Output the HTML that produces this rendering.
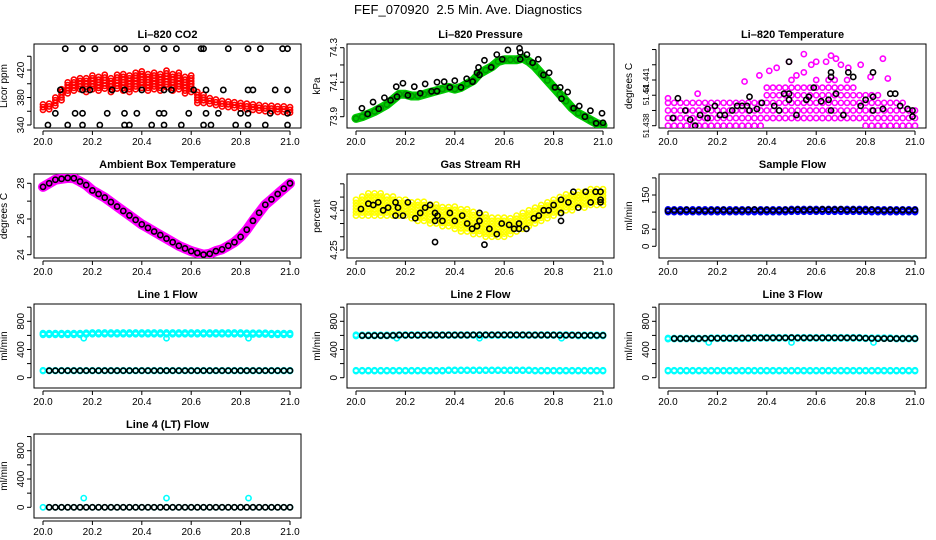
<!DOCTYPE html>
<html><head><meta charset="utf-8"><style>
html,body{margin:0;padding:0;background:#fff;}
svg{display:block;font-family:"Liberation Sans",Arial,sans-serif;}
</style></head><body>
<svg id="chart" width="936" height="540" viewBox="0 0 936 540" xmlns="http://www.w3.org/2000/svg">
<rect width="936" height="540" fill="#fff"/>
<text x="468" y="14" text-anchor="middle" font-size="13" xml:space="preserve">FEF_070920  2.5 Min. Ave. Diagnostics</text>
</svg>
<script>
// ---- shared categories ----
const times = [];
for (let i = 0; i <= 40; i++) times.push(20 + i * 0.025);
const xTickLabels = ["20.0","20.2","20.4","20.6","20.8","21.0"];
const xTickValues = [20.0,20.2,20.4,20.6,20.8,21.0];

// ---- CO2 ----
const co2Lo = [362,363,368,376,386,390,392,388,392,390,393,388,393,390,388,392,394,390,392,390,395,390,392,386,388,372,372,371,369,367,366,365,364,363,362,361,360,360,359,359,358];
const co2Hi = [370,372,382,395,404,408,410,408,412,410,414,410,416,414,412,416,418,414,416,414,420,414,416,410,412,390,384,380,377,375,374,373,372,371,370,369,368,368,367,367,368];
const co2BlackX = [20.02,20.1,20.16,20.23,20.33,20.35,20.44,20.49,20.56,20.65,20.68,20.78,20.83,20.9,20.99,
 20.05,20.13,20.16,20.26,20.33,20.38,20.47,20.49,20.59,20.66,20.71,20.8,20.83,20.92,20.99,
 20.07,20.16,20.19,20.28,20.33,20.4,20.49,20.52,20.61,20.66,20.73,20.83,20.85,20.94,20.99,
 20.09,20.16,20.21,20.3,20.33,20.42,20.49,20.54,20.64,20.65,20.75,20.83,20.88,20.97,20.99];
const co2BlackY = [340,340,340,340,340,340,340,340,340,340,340,340,340,340,340,
 357,357,357,357,357,357,357,357,357,357,357,357,357,357,357,
 391,391,391,391,391,391,391,391,391,391,391,391,391,391,391,
 451,451,451,451,451,451,451,451,451,451,451,451,451,451,451];

// ---- Pressure ----
const presMid = [73.89,73.90,73.915,73.93,73.95,73.97,74.0,74.03,74.03,74.02,74.02,74.03,74.04,74.05,74.06,74.07,74.06,74.07,74.09,74.11,74.15,74.17,74.19,74.22,74.23,74.23,74.23,74.24,74.22,74.19,74.15,74.11,74.07,74.03,73.99,73.95,73.92,73.90,73.88,73.86,73.85];
const presBlackX = [20.024,20.047,20.069,20.092,20.115,20.14,20.163,20.166,20.19,20.21,20.236,20.26,20.28,20.306,20.328,20.328,20.357,20.38,20.40,20.425,20.448,20.472,20.49,20.496,20.5,20.52,20.547,20.57,20.592,20.615,20.662,20.665,20.665,20.692,20.715,20.738,20.759,20.782,20.806,20.827,20.832,20.857,20.881,20.904,20.927,20.949,20.972,20.996,21.0];
const presBlackY = [73.949,73.916,73.985,73.946,74.01,73.995,74.074,74.016,74.094,74.024,74.074,74.036,74.09,74.047,74.1,74.048,74.103,74.07,74.109,74.07,74.12,74.103,74.155,74.186,74.142,74.227,74.186,74.26,74.233,74.287,74.297,74.273,74.233,74.26,74.213,74.233,74.142,74.155,74.07,74.07,74.004,74.043,73.949,73.962,73.9,73.935,73.862,73.92,73.865];

// ---- Li-820 Temperature ----
const tempLo = [51.438,51.438,51.438,51.438,51.438,51.438,51.438,51.438,51.438,51.438,51.438,51.438,51.438,51.438,51.438,51.438,
 51.4385,51.4385,51.4385,51.4385,51.4385,51.4385,51.4385,51.4385,51.4385,51.4385,51.4385,51.4385,51.4385,51.4385,51.4385,51.4385,
 51.438,51.438,51.438,51.438,51.438,51.438,51.438,51.438,51.438];
const tempHi = [51.4395,51.4395,51.4395,51.4395,51.4395,51.4395,51.4395,51.4395,51.4395,51.4395,51.4395,51.4395,51.4395,51.4395,51.4395,51.4398,
 51.4405,51.4405,51.4408,51.4405,51.441,51.4405,51.4405,51.4408,51.441,51.4405,51.441,51.441,51.4408,51.441,51.4405,51.4402,51.44,
 51.44,51.44,51.4398,51.4395,51.4395,51.4395,51.4392,51.439];
const tempOutX = [20.0,20.12,20.31,20.37,20.41,20.44,20.49,20.52,20.55,20.55,20.58,20.6,20.64,20.66,20.68,20.7,20.73,20.78,20.82,20.87,20.89];
const tempOutY = [51.4398,51.4401,51.4409,51.4413,51.4416,51.4418,51.4422,51.4413,51.4415,51.4427,51.442,51.4422,51.4422,51.4426,51.4424,51.442,51.4418,51.442,51.4412,51.4424,51.4411];
const tempBlackX = [20.02,20.04,20.07,20.09,20.11,20.13,20.16,20.16,20.19,20.21,20.23,20.26,20.28,20.3,20.32,20.33,20.33,20.36,20.38,20.43,20.45,20.47,20.49,20.49,20.49,20.52,20.56,20.57,20.59,20.62,20.65,20.66,20.66,20.66,20.68,20.71,20.73,20.75,20.78,20.8,20.83,20.83,20.83,20.87,20.9,20.92,20.94,20.97,20.99,20.99];
const tempBlackY = [51.4385,51.4398,51.439,51.4384,51.438,51.4387,51.4391,51.4385,51.4393,51.4387,51.4387,51.439,51.4393,51.4393,51.4393,51.439,51.4399,51.4391,51.4395,51.4393,51.439,51.4401,51.4401,51.4397,51.4422,51.4387,51.4397,51.4399,51.4405,51.4396,51.4397,51.439,51.4412,51.4415,51.4401,51.4387,51.4415,51.4412,51.4393,51.4397,51.4415,51.4399,51.439,51.4391,51.4401,51.4401,51.4393,51.4391,51.439,51.4386];

// ---- Ambient Box Temperature ----
const ambMid = [27.8,28.0,28.2,28.25,28.3,28.28,28.1,27.9,27.6,27.4,27.2,26.95,26.7,26.45,26.2,25.95,25.7,25.5,25.3,25.1,24.9,24.7,24.5,24.35,24.2,24.1,24.0,24.05,24.2,24.3,24.5,24.7,25.0,25.4,25.9,26.35,26.8,27.1,27.4,27.7,28.0];

// ---- Gas Stream RH ----
const rhLo = [4.38,4.38,4.38,4.38,4.38,4.38,4.38,4.38,4.38,4.37,4.36,4.36,4.35,4.35,4.34,4.34,4.33,4.32,4.32,4.31,4.31,4.30,4.30,4.30,4.30,4.31,4.32,4.33,4.34,4.35,4.36,4.37,4.38,4.39,4.40,4.40,4.41,4.41,4.42,4.42,4.42];
const rhHi = [4.45,4.46,4.47,4.47,4.47,4.46,4.46,4.45,4.44,4.44,4.44,4.44,4.43,4.43,4.42,4.42,4.42,4.41,4.41,4.40,4.39,4.39,4.38,4.38,4.38,4.38,4.38,4.39,4.40,4.41,4.42,4.43,4.44,4.45,4.46,4.47,4.48,4.48,4.49,4.49,4.49];
const rhBlackX = [20.02,20.05,20.07,20.09,20.11,20.13,20.16,20.16,20.17,20.19,20.21,20.24,20.26,20.28,20.3,20.32,20.32,20.32,20.33,20.35,20.38,20.4,20.43,20.45,20.47,20.49,20.5,20.5,20.52,20.54,20.57,20.59,20.62,20.64,20.66,20.66,20.69,20.72,20.74,20.76,20.78,20.8,20.83,20.83,20.83,20.86,20.88,20.9,20.93,20.95,20.97,20.99,20.99,20.99];
const rhBlackY = [4.405,4.425,4.42,4.43,4.40,4.41,4.43,4.38,4.41,4.38,4.43,4.37,4.39,4.41,4.42,4.39,4.36,4.28,4.38,4.36,4.39,4.36,4.38,4.35,4.33,4.34,4.36,4.39,4.27,4.33,4.31,4.35,4.345,4.33,4.33,4.35,4.33,4.37,4.38,4.40,4.40,4.42,4.39,4.44,4.36,4.43,4.47,4.41,4.47,4.43,4.47,4.47,4.44,4.43];

// ---- Sample Flow ----
const sampLo = [100,100,100,100,100,100,100,100,100,100,100,100,100,100,100,100,100,100,100,100,101,101,101,101,101,101,101,101,101,101,101,101,101,100,100,100,100,100,100,100,100];
const sampHi = [108,108,109,109,109,109,109,110,110,109,109,109,109,110,110,110,110,110,110,110,111,111,111,111,112,112,112,112,112,111,111,111,111,110,110,110,110,110,110,110,110];
const sampBlack = [104,105,104,106,104,105,104,105,105,106,104,105,105,106,107,105,106,105,105,106,106,107,106,107,106,108,107,107,108,106,107,106,106,107,105,105,106,105,106,105,106];

// ---- Line flows ----
const l1Upper = [620,620,620,620,620,620,620,625,628,628,628,628,628,628,628,628,628,628,628,628,628,628,628,628,628,628,628,628,628,628,628,628,628,625,625,625,625,620,620,620,620];
const l1Lower = [100,100,100,100,100,100,100,100,100,100,100,100,100,100,100,100,100,100,100,100,100,100,100,100,100,100,100,100,100,100,100,100,100,100,100,100,100,100,100,100,100];
const l1Black = [null,100,100,100,100,100,100,100,100,100,100,100,100,100,100,100,100,100,100,100,100,100,100,100,100,100,100,100,100,100,100,100,100,100,100,100,100,100,100,100,100];
const l2Upper = [600,600,600,600,600,600,600,605,605,605,605,605,605,605,605,605,605,605,605,605,605,605,605,605,605,605,605,605,605,605,605,605,605,605,605,605,600,600,600,600,600];
const l2Lower = [100,100,100,100,100,100,100,100,100,100,100,100,100,100,100,105,105,105,105,105,105,105,105,105,105,105,105,105,105,100,100,100,100,100,100,100,100,100,100,100,100];
const l2Black = [null,598,598,598,598,598,600,605,603,603,603,603,605,605,605,605,605,605,605,607,607,607,607,607,607,607,607,607,605,605,605,605,605,603,603,603,603,600,600,600,600];
const l3Upper = [555,555,555,555,555,555,555,560,560,560,560,560,560,560,565,565,565,565,565,565,565,565,565,565,565,565,565,565,565,565,565,565,560,560,560,560,560,555,555,555,555];
const l3Lower = [100,100,100,100,100,100,100,100,100,100,100,100,100,100,100,100,100,100,100,100,100,100,100,100,100,100,100,100,100,100,100,100,100,100,100,100,100,100,100,100,100];
const l3Black = [null,555,555,555,555,555,558,560,560,560,560,560,562,562,565,565,565,565,565,565,568,565,565,565,565,565,565,565,565,565,565,565,560,558,555,555,555,555,555,555,555];
const l4Lower = [0,0,0,0,0,0,0,0,0,0,0,0,0,0,0,0,0,0,0,0,0,0,0,0,0,0,0,0,0,0,0,0,0,0,0,0,0,0,0,0,0];
const l4Black = [null,0,0,0,0,0,0,0,0,0,0,0,0,0,0,0,0,0,0,0,0,0,0,0,0,0,0,0,0,0,0,0,0,0,0,0,0,0,0,0,0];
const glitchX = [20.165,20.5,20.832];
const l1Glitch = [560,560,560];
const l2Glitch = [560,560,560];
const l3Glitch = [500,500,500];
const l4Glitch = [130,130,130];

// ---------- rendering ----------
const svg = document.getElementById('chart');
const NS = 'http://www.w3.org/2000/svg';
const colLeft = [34,347,659];
const rowTop = [44,174,304,434];
const BW = 267, BH = 84;

function mk(tag, attrs, parent){
  const e = document.createElementNS(NS, tag);
  for (const k in attrs) e.setAttribute(k, attrs[k]);
  (parent||svg).appendChild(e);
  return e;
}

function panel(col,row,name,title,ylab,v1,y1,v2,y2,ticks,labels,lfs){
  const L = colLeft[col], T = rowTop[row];
  const g = mk('g',{});
  
  
  const xs = v => L + 9 + (v - 20) * 247;
  const ys = v => T + y1 + (v - v1) * (y2 - y1) / (v2 - v1);
  const box = mk('rect',{x:L,y:T,width:BW,height:BH,fill:'none',stroke:'#000','stroke-width':1},g);
  
  
  const t = mk('text',{x:L+BW/2,y:T-6,'text-anchor':'middle','font-size':11,'font-weight':'bold'},g);
  t.textContent = title;
  
  
  const xa = mk('g',{},g);
  
  
  mk('line',{x1:xs(20),x2:xs(21),y1:T+BH+3,y2:T+BH+3,stroke:'#000'},xa);
  xTickValues.forEach((v,i)=>{
    mk('line',{x1:xs(v),x2:xs(v),y1:T+BH+3,y2:T+BH+7,stroke:'#000'},xa);
    const tx = mk('text',{x:xs(v),y:T+BH+17,'text-anchor':'middle','font-size':10},xa);
    tx.textContent = xTickLabels[i];
  });
  const ya = mk('g',{},g);
  
  
  const yt = ticks.map(ys);
  mk('line',{x1:L-3,x2:L-3,y1:Math.min(...yt),y2:Math.max(...yt),stroke:'#000'},ya);
  ticks.forEach(v=>{ mk('line',{x1:L-7,x2:L-3,y1:ys(v),y2:ys(v),stroke:'#000'},ya); });
  labels.forEach(lb=>{
    const yy = ys(parseFloat(lb));
    const tx = mk('text',{x:L-10,y:yy,'text-anchor':'middle','font-size':lfs||10,transform:`rotate(-90 ${L-10} ${yy})`},ya);
    tx.textContent = lb;
  });
  const yl = mk('text',{x:L-27,y:T+BH/2,'text-anchor':'middle','font-size':10,transform:`rotate(-90 ${L-27} ${T+BH/2})`},g);
  yl.textContent = ylab;
  
  
  const clipId = 'c'+col+row;
  const cp = mk('clipPath',{id:clipId},g);
  mk('rect',{x:L,y:T,width:BW,height:BH},cp);
  const data = mk('g',{'clip-path':`url(#${clipId})`},g);
  
  
  return {xs,ys,g:data};
}

function pt(p,x,y,color,name){
  const c = mk('circle',{cx:p.xs(x),cy:p.ys(y),r:2.6,fill:'none',stroke:color,'stroke-width':1.6},p.g);
  
  
}
function band(p,lo,hi,step,color,name,stride){
  times.forEach((t,i)=>{
    if (stride && i % stride) return;
    for (let v = lo[i]; v <= hi[i] + step*0.01; v += step) pt(p,t,v,color,name);
  });
}
function thick(p,vals,color,w,name){
  const d = vals.map((v,i)=>(i?'L':'M')+p.xs(times[i]).toFixed(1)+' '+p.ys(v).toFixed(1)).join(' ');
  const e = mk('path',{d,fill:'none',stroke:color,'stroke-width':w,'stroke-linejoin':'round','stroke-linecap':'round'},p.g);
  
  
}
function series(p,vals,color,name){
  vals.forEach((v,i)=>{ if (v !== null) pt(p,times[i],v,color,name); });
}
function scatter(p,xv,yv,color,name){
  xv.forEach((x,i)=>pt(p,x,yv[i],color,name));
}

// CO2
let p = panel(0,0,'co2-panel','Li\u2013820 CO2','Licor ppm',340,81,420,26,[340,360,380,400,420,440],['340','380','420']);
band(p,co2Lo,co2Hi,4,'#ff0000','co2-point');
scatter(p,co2BlackX,co2BlackY,'#000','co2-avg-point');

// Pressure
p = panel(1,0,'pressure-panel','Li\u2013820 Pressure','kPa',73.9,72.7,74.3,3.7,[73.9,74.0,74.1,74.2,74.3],['73.9','74.1','74.3']);
thick(p,presMid,'#00cc00',9,'pressure-band');
series(p,presMid,'#009900','pressure-point');
scatter(p,presBlackX,presBlackY,'#000','pressure-avg-point');

// Li-820 Temperature
p = panel(2,0,'li820-temp-panel','Li\u2013820 Temperature','degrees C',51.438,81.7,51.441,36,[51.438,51.439,51.44,51.441,51.442,51.443],['51.438','51.44','51.441'],8);
band(p,tempLo,tempHi,0.0005,'#ff00ff','li820-temp-point');
scatter(p,tempOutX,tempOutY,'#ff00ff','li820-temp-point');
scatter(p,tempBlackX,tempBlackY,'#000','li820-temp-avg-point');

// Ambient
p = panel(0,1,'ambient-temp-panel','Ambient Box Temperature','degrees C',24,80.7,28,9.3,[24,25,26,27,28],['24','26','28']);
thick(p,ambMid,'#ff00ff',10,'ambient-temp-band');
series(p,ambMid,'#000','ambient-temp-avg-point');

// RH
p = panel(1,1,'rh-panel','Gas Stream RH','percent',4.25,76,4.40,36.3,[4.25,4.30,4.35,4.40,4.45,4.50],['4.25','4.40']);
band(p,rhLo,rhHi,0.012,'#ffff00','rh-point');
scatter(p,rhBlackX,rhBlackY,'#000','rh-avg-point');

// Sample flow
p = panel(2,1,'sample-flow-panel','Sample Flow','ml/min',0,72.3,150,21,[0,50,100,150,200],['0','50','150']);
band(p,sampLo,sampHi,4,'#0000ff','sample-flow-point');
series(p,sampBlack,'#000','sample-flow-avg-point');

// Line 1
const flowTicks = [0,200,400,600,800,1000];
const flowLabels = ['0','400','800'];
p = panel(0,2,'line1-flow-panel','Line 1 Flow','ml/min',0,73.7,800,17.3,flowTicks,flowLabels);
band(p,l1Upper.map(v=>v-12),l1Upper.map(v=>v+12),12,'#00ffff','line1-flow-point');
scatter(p,glitchX,l1Glitch,'#00ffff','line1-flow-point');
band(p,l1Lower.map(v=>v-5),l1Lower.map(v=>v+5),10,'#00ffff','line1-flow-point');
series(p,l1Black,'#000','line1-flow-avg-point');

// Line 2
p = panel(1,2,'line2-flow-panel','Line 2 Flow','ml/min',0,73.7,800,17.3,flowTicks,flowLabels);
band(p,l2Upper.map(v=>v-8),l2Upper.map(v=>v+8),16,'#00ffff','line2-flow-point');
scatter(p,glitchX,l2Glitch,'#00ffff','line2-flow-point');
band(p,l2Lower.map(v=>v-6),l2Lower.map(v=>v+6),12,'#00ffff','line2-flow-point');
series(p,l2Black,'#000','line2-flow-avg-point');

// Line 3
p = panel(2,2,'line3-flow-panel','Line 3 Flow','ml/min',0,73.7,800,17.3,flowTicks,flowLabels);
band(p,l3Upper.map(v=>v-8),l3Upper.map(v=>v+8),16,'#00ffff','line3-flow-point');
scatter(p,glitchX,l3Glitch,'#00ffff','line3-flow-point');
band(p,l3Lower.map(v=>v-6),l3Lower.map(v=>v+6),12,'#00ffff','line3-flow-point');
series(p,l3Black,'#000','line3-flow-avg-point');

// Line 4
p = panel(0,3,'line4-flow-panel','Line 4 (LT) Flow','ml/min',0,73.3,800,16.7,flowTicks,flowLabels);
series(p,l4Lower,'#00ffff','line4-flow-point');
scatter(p,glitchX,l4Glitch,'#00ffff','line4-flow-point');
series(p,l4Black,'#000','line4-flow-avg-point');
</script>
</body></html>
